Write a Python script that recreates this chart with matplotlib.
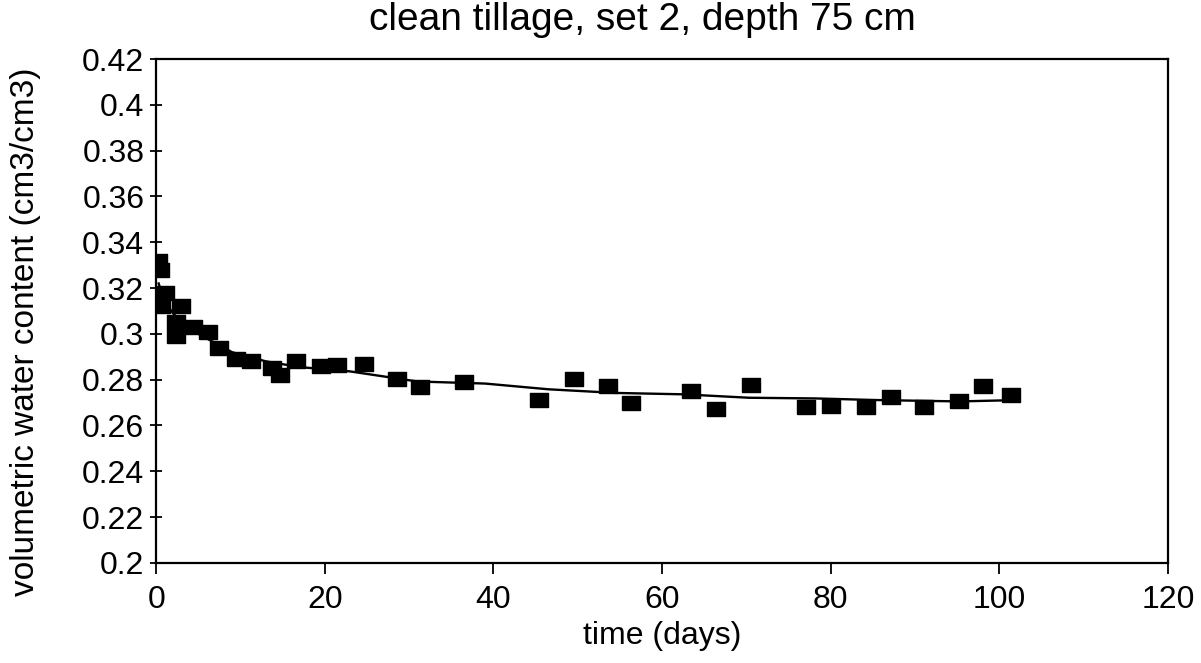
import numpy as np
import matplotlib.pyplot as plt
from matplotlib.ticker import FixedLocator

plt.rcParams['font.family'] = ['Liberation Sans', 'DejaVu Sans']

# measured points (time in days, volumetric water content)
days = [0.2, 0.5, 1.0, 0.6, 2.9, 2.3, 2.4, 4.4, 6.2, 7.5, 9.5, 11.3, 13.7, 14.7,
        16.6, 19.6, 21.5, 24.6, 28.6, 31.3, 36.5, 45.4, 49.5, 53.6, 56.3, 63.4,
        66.4, 70.5, 77.1, 80.0, 84.2, 87.1, 91.1, 95.2, 98.1, 101.4]
theta = [0.332, 0.328, 0.318, 0.312, 0.312, 0.305, 0.299, 0.303, 0.301, 0.294,
         0.289, 0.288, 0.285, 0.282, 0.288, 0.286, 0.2865, 0.2867, 0.2805, 0.2768,
         0.279, 0.271, 0.2804, 0.2772, 0.2696, 0.275, 0.2673, 0.2777, 0.2682,
         0.2684, 0.2679, 0.2725, 0.268, 0.2705, 0.2773, 0.2732]

# fitted curve
fit_days = [0.3, 1, 2, 3, 4, 6, 9, 13, 17, 23, 31, 39, 46.5, 54.5, 62.5, 70.3,
            78.2, 85.4, 95.2, 102.3]
fit_theta = [0.322, 0.314, 0.309, 0.305, 0.302, 0.298, 0.292, 0.288, 0.2855,
             0.2836, 0.2792, 0.2783, 0.2758, 0.2742, 0.2736, 0.2721, 0.2718,
             0.2711, 0.2705, 0.2711]

xticks = [0, 20, 40, 60, 80, 100, 120]
yticks = [0.2, 0.22, 0.24, 0.26, 0.28, 0.3, 0.32, 0.34, 0.36, 0.38, 0.4, 0.42]
ytick_labels = ['0.2', '0.22', '0.24', '0.26', '0.28', '0.3', '0.32', '0.34',
                '0.36', '0.38', '0.4', '0.42']

fig = plt.figure(figsize=(12.01, 6.63), dpi=100)
ax = fig.add_axes([0.13, 0.151, 0.8426, 0.760])

# rectangular "square" marker, a bit wider than tall like the scan
box = [(-1, -0.75), (1, -0.75), (1, 0.75), (-1, 0.75), (-1, -0.75)]
ax.plot(fit_days, fit_theta, color='black', linewidth=1.7, zorder=2)
ax.plot(days, theta, linestyle='none', marker=box, markersize=13,
        color='black', zorder=3)

ax.set_xlim(0, 120)
ax.set_ylim(0.2, 0.42)
ax.xaxis.set_major_locator(FixedLocator(xticks))
ax.set_yticks(yticks)
ax.set_yticklabels(ytick_labels)
ax.tick_params(axis='x', direction='out', length=8, width=1.3, labelsize=23, pad=8)
ax.tick_params(axis='y', direction='inout', length=9, width=1.3, labelsize=23, pad=4)
for s in ax.spines.values():
    s.set_linewidth(1.6)

ax.set_xlabel('time (days)', fontsize=23, labelpad=4)
fig.text(0.021, 0.50, 'volumetric water content (cm3/cm3)', rotation=90,
         fontsize=24, ha='center', va='center')
# the scan clips the title's top; keep it just inside the frame here
fig.text(0.535, 0.997, 'clean tillage, set 2, depth 75 cm', fontsize=28,
         ha='center', va='top')

fig.savefig('out.png', dpi=100)
